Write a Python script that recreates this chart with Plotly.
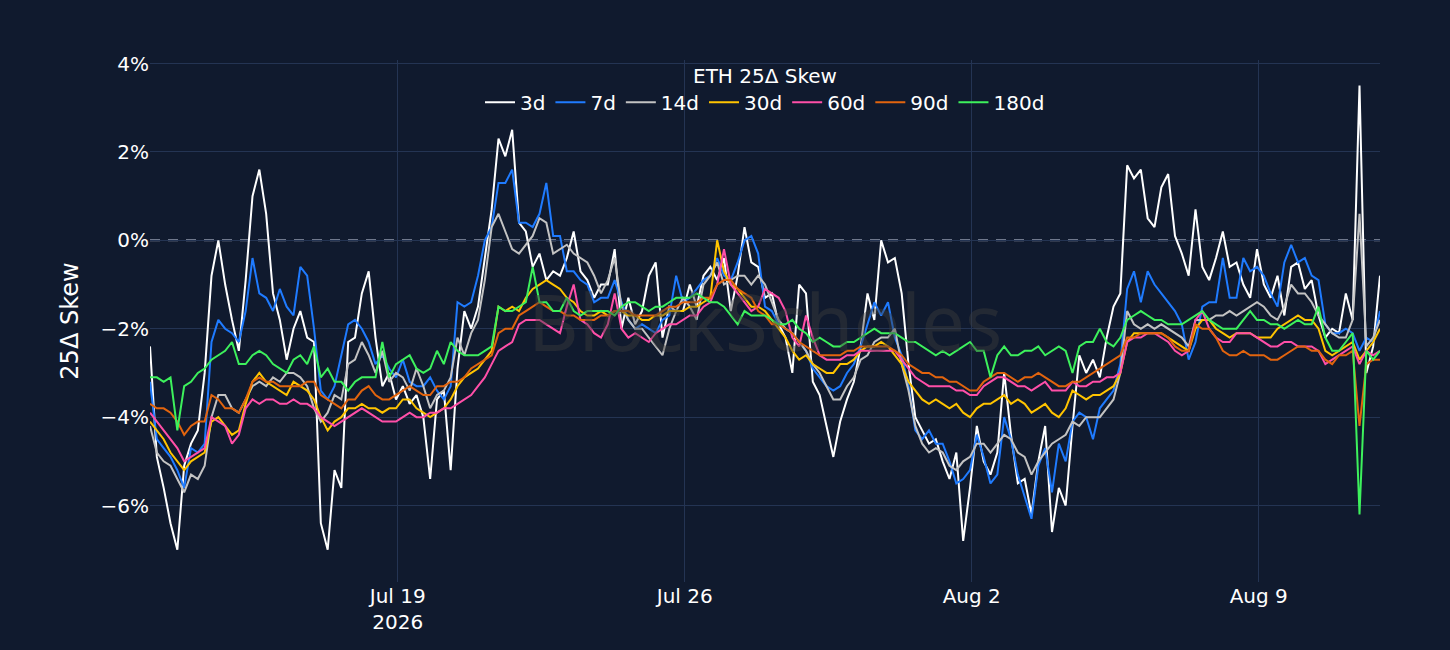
import pandas as pd
import plotly.graph_objects as go

# 4-hourly samples, Jul 12 23:00 -> Aug 11 23:00 (2026)
start_time = '2026-07-12 23:00'
step = '4h'

tenors = ['3d', '7d', '14d', '30d', '60d', '90d', '180d']
colors = ['#ffffff', '#1f7bff', '#c3c3c3', '#ffc400', '#ff4fa8', '#e2640e', '#3df15c']

skew_3d = [
    -2.4, -4.9, -5.6, -6.4, -7.0, -5.1, -4.6, -4.3, -3.0, -0.8,
    0.0, -1.0, -1.8, -2.5, -0.9, 1.0, 1.6, 0.6, -1.2, -1.8,
    -2.7, -2.0, -1.6, -2.2, -2.3, -6.4, -7.0, -5.2, -5.6, -2.3,
    -2.2, -1.2, -0.7, -2.2, -3.3, -3.0, -3.6, -3.3, -3.7, -3.5,
    -4.0, -5.4, -3.6, -3.4, -5.2, -2.9, -1.6, -2.0, -1.5, -0.4,
    0.7, 2.3, 1.9, 2.5, 0.4, 0.2, -0.6, -0.3, -0.9, -0.7,
    -0.8, -0.4, 0.2, -0.7, -0.9, -1.3, -1.0, -1.0, -0.2, -2.0,
    -1.3, -1.9, -1.6, -0.8, -0.5, -2.2, -1.5, -1.6, -1.6, -1.0,
    -1.5, -0.8, -0.6, -0.9, -0.4, -1.6, -0.8, 0.3, -0.5, -0.6,
    -1.3, -1.2, -1.9, -2.2, -3.0, -1.0, -1.2, -3.2, -3.5, -4.2,
    -4.9, -4.1, -3.6, -3.2, -2.4, -1.2, -1.8, 0.0, -0.5, -0.4,
    -1.2, -2.8, -4.0, -4.3, -4.6, -4.5, -5.0, -5.4, -4.8, -6.8,
    -5.6, -4.2, -5.0, -5.3, -4.8, -3.0, -4.4, -5.5, -5.4, -6.2,
    -5.0, -4.2, -6.6, -5.6, -6.0, -4.2, -2.6, -3.0, -2.7, -3.1,
    -2.2, -1.5, -1.2, 1.7, 1.4, 1.6, 0.5, 0.3, 1.2, 1.5,
    0.1, -0.3, -0.8, 0.7, -0.6, -0.9, -0.4, 0.2, -0.6, -0.5,
    -1.0, -1.3, -0.2, -1.0, -1.3, -0.8, -1.7, -0.6, -0.5, -1.1,
    -0.9, -1.7, -2.2, -2.0, -2.1, -1.2, -1.8, 3.5, -3.0, -2.4,
    -0.8,
]

skew_7d = [
    -3.2, -4.5, -4.7, -4.9, -5.2, -5.6, -4.7, -4.8, -4.6, -2.3,
    -1.8, -2.0, -2.1, -2.3, -1.6, -0.4, -1.2, -1.3, -1.6, -1.1,
    -1.5, -1.7, -0.6, -0.8, -2.0, -3.4, -3.6, -3.3, -2.6, -1.9,
    -1.8, -2.0, -2.3, -2.8, -2.6, -2.9, -3.1, -2.7, -3.2, -3.3,
    -3.3, -3.1, -3.4, -3.6, -3.3, -1.4, -1.5, -1.4, -0.8, 0.0,
    0.3, 1.3, 1.3, 1.6, 0.4, 0.4, 0.3, 0.6, 1.3, 0.1,
    0.1, -0.7, -0.7, -0.9, -1.0, -1.4, -1.3, -1.3, -0.9, -1.4,
    -1.8, -2.0, -1.9, -2.0, -2.1, -1.8, -1.7, -0.8, -1.4, -1.3,
    -1.1, -0.9, -0.8, -0.4, -0.8, -0.9, -0.5, 0.0, 0.1, -0.3,
    -1.5, -1.6, -1.9, -2.0, -2.1, -2.3, -2.5, -2.9, -3.1, -3.3,
    -3.4, -3.3, -3.0, -2.8, -2.4, -1.9, -1.4, -1.7, -1.4, -2.2,
    -2.6, -3.3, -4.3, -4.5, -4.3, -4.6, -4.6, -5.0, -5.5, -5.4,
    -5.2, -4.4, -4.9, -5.5, -5.3, -4.0, -4.5, -5.3, -5.8, -6.3,
    -5.1, -4.7, -5.7, -4.6, -5.0, -4.1, -3.9, -4.0, -4.5, -3.8,
    -3.6, -3.4, -2.8, -1.1, -0.7, -1.4, -0.7, -1.0, -1.2, -1.4,
    -1.6, -1.9, -2.7, -2.3, -1.5, -1.4, -1.4, -0.4, -1.3, -1.3,
    -0.4, -0.7, -0.6, -0.8, -1.2, -1.5, -0.5, -0.1, -0.5, -0.4,
    -0.8, -0.9, -1.9, -2.1, -2.1, -2.0, -2.1, -2.5, -2.2, -2.3,
    -1.6,
]

skew_14d = [
    -4.2, -4.8, -5.0, -5.1, -5.4, -5.7, -5.3, -5.4, -5.1, -4.0,
    -3.5, -3.5, -3.8, -3.9, -3.6, -3.3, -3.2, -3.3, -3.1, -3.2,
    -3.0, -3.0, -3.1, -3.3, -3.8, -4.1, -3.9, -3.5, -3.6, -2.8,
    -2.7, -2.3, -2.6, -3.0, -2.5, -3.2, -3.0, -3.1, -3.4, -2.9,
    -3.3, -3.8, -3.5, -3.4, -3.1, -2.2, -2.6, -2.1, -1.8, -0.9,
    0.3, 0.6, 0.2, -0.2, -0.3, -0.1, 0.1, 0.5, 0.4, -0.3,
    -0.2, -0.1, -0.3, -0.4, -0.5, -0.8, -1.2, -0.9, -0.4, -1.5,
    -1.8, -2.0, -2.0, -2.2, -2.4, -2.6, -2.0, -1.6, -1.3, -1.5,
    -1.8, -1.0, -0.8, -0.5, -1.0, -0.9, -0.8, -0.8, -1.0, -0.8,
    -1.0, -1.4, -1.8, -2.0, -2.1, -2.3, -2.5, -2.8, -3.0, -3.3,
    -3.6, -3.6, -3.3, -3.1, -2.7, -2.6, -2.3, -2.2, -2.2, -2.0,
    -2.8, -3.4, -4.2, -4.6, -4.8, -4.7, -4.8, -5.1, -5.2, -5.0,
    -4.9, -4.6, -4.6, -4.8, -4.6, -4.4, -4.5, -4.8, -4.9, -5.3,
    -5.0, -4.8, -4.6, -4.5, -4.4, -4.1, -4.2, -4.0, -4.0, -4.0,
    -3.8, -3.6, -3.0, -1.6, -1.9, -2.0, -1.9, -2.0, -1.9, -2.0,
    -2.1, -2.2, -2.4, -1.8, -1.8, -1.8, -1.7, -1.7, -1.6, -1.7,
    -1.6, -1.5, -1.4, -1.5, -1.7, -1.8, -1.5, -1.0, -1.2, -1.2,
    -1.4, -1.7, -1.9, -2.1, -2.2, -2.2, -1.8, 0.6, -2.4, -2.2,
    -1.8,
]

skew_30d = [
    -4.1, -4.3, -4.5, -4.8, -5.0, -5.2, -5.0, -4.9, -4.8, -4.1,
    -4.0, -4.2, -4.4, -4.3, -3.7, -3.2, -3.0, -3.2, -3.3, -3.4,
    -3.5, -3.2, -3.3, -3.4, -3.6, -4.0, -4.3, -4.1, -4.0, -3.8,
    -3.8, -3.7, -3.8, -3.8, -3.9, -3.8, -3.8, -3.6, -3.6, -3.8,
    -3.9, -4.0, -3.9, -3.8, -3.6, -3.3, -3.1, -3.0, -2.9, -2.7,
    -2.5, -1.5, -1.6, -1.5, -1.6, -1.3, -1.1, -1.0, -0.9, -1.0,
    -1.1, -1.3, -1.4, -1.6, -1.7, -1.7, -1.6, -1.7, -1.6, -1.6,
    -1.7, -1.7, -1.8, -1.8, -1.7, -1.7, -1.6, -1.6, -1.6, -1.5,
    -1.5, -1.4, -1.3, 0.0, -0.7, -1.0, -1.1, -1.3, -1.5, -1.5,
    -1.6, -1.8, -2.0, -2.2, -2.5, -2.7, -2.6, -2.8, -2.9, -3.0,
    -3.0, -2.8, -2.8, -2.7, -2.5, -2.4, -2.4, -2.3, -2.4, -2.6,
    -2.8, -3.2, -3.4, -3.6, -3.7, -3.6, -3.7, -3.8, -3.7, -3.9,
    -4.0, -3.8, -3.7, -3.7, -3.6, -3.5, -3.7, -3.6, -3.7, -3.9,
    -3.8, -3.7, -3.9, -4.0, -3.8, -3.4, -3.5, -3.6, -3.5, -3.5,
    -3.4, -3.3, -3.0, -2.3, -2.1, -2.1, -2.1, -2.1, -2.1, -2.2,
    -2.3, -2.4, -2.5, -2.0, -1.8, -1.8, -2.0, -2.1, -2.2, -2.1,
    -2.1, -2.1, -2.2, -2.2, -2.2, -2.0, -1.9, -1.8, -1.7, -1.8,
    -1.8, -2.0, -2.5, -2.6, -2.5, -2.4, -2.3, -2.7, -2.5, -2.3,
    -2.0,
]

skew_60d = [
    -3.9, -4.1, -4.3, -4.5, -4.7, -5.0, -4.9, -4.8, -4.7, -4.0,
    -4.1, -4.2, -4.6, -4.4, -3.8, -3.6, -3.7, -3.6, -3.6, -3.7,
    -3.7, -3.6, -3.7, -3.7, -3.8, -4.0, -4.1, -4.2, -4.1, -4.0,
    -3.9, -3.8, -3.9, -4.0, -4.1, -4.1, -4.1, -4.0, -3.9, -4.0,
    -4.0, -3.9, -3.9, -3.8, -3.8, -3.7, -3.6, -3.5, -3.3, -3.1,
    -2.8, -2.5, -2.4, -2.3, -1.9, -1.8, -1.8, -1.8, -1.9, -2.0,
    -2.1, -1.5, -1.0, -1.8, -1.9, -2.1, -2.2, -1.9, -1.2, -2.0,
    -2.2, -2.1, -2.2, -2.3, -2.1, -2.0, -1.9, -1.9, -1.8, -1.7,
    -1.7, -1.5, -1.4, -1.0, -0.2, -1.0, -1.2, -1.4, -1.6, -1.5,
    -1.1, -1.2, -1.3, -1.6, -2.2, -2.4, -1.7, -2.2, -2.6, -2.7,
    -2.7, -2.7, -2.6, -2.6, -2.5, -2.5, -2.5, -2.5, -2.5, -2.5,
    -2.7, -2.9, -3.1, -3.2, -3.3, -3.3, -3.3, -3.3, -3.4, -3.4,
    -3.5, -3.5, -3.3, -3.2, -3.1, -3.1, -3.2, -3.3, -3.3, -3.4,
    -3.3, -3.2, -3.4, -3.4, -3.4, -3.2, -3.3, -3.3, -3.2, -3.2,
    -3.1, -3.1, -3.0, -2.3, -2.2, -2.2, -2.1, -2.1, -2.2, -2.3,
    -2.5, -2.6, -2.5, -1.8, -1.6, -2.0, -2.2, -2.3, -2.3, -2.1,
    -2.1, -2.1, -2.2, -2.3, -2.4, -2.4, -2.3, -2.3, -2.4, -2.4,
    -2.4, -2.5, -2.8, -2.7, -2.6, -2.5, -2.4, -2.8, -2.5, -2.6,
    -2.5,
]

skew_90d = [
    -3.7, -3.8, -3.8, -3.9, -4.1, -4.4, -4.2, -4.1, -4.1, -3.5,
    -3.6, -3.8, -3.8, -3.9, -3.6, -3.2, -3.1, -3.2, -3.2, -3.3,
    -3.3, -3.3, -3.3, -3.2, -3.2, -3.5, -3.6, -3.7, -3.8, -3.6,
    -3.6, -3.4, -3.3, -3.5, -3.6, -3.6, -3.5, -3.4, -3.3, -3.4,
    -3.5, -3.5, -3.3, -3.3, -3.2, -3.2, -3.1, -2.9, -2.8, -2.7,
    -2.6, -2.1, -2.0, -2.0, -1.7, -1.6, -1.5, -1.4, -1.5, -1.6,
    -1.6, -1.7, -1.7, -1.8, -1.8, -1.8, -1.7, -1.7, -1.6, -1.6,
    -1.6, -1.7, -1.7, -1.7, -1.7, -1.6, -1.5, -1.5, -1.4, -1.4,
    -1.4, -1.3, -1.3, -1.0, -0.9, -0.9, -1.1, -1.2, -1.3, -1.6,
    -1.7, -1.9, -1.9, -2.0, -2.1, -2.3, -2.4, -2.5, -2.6, -2.6,
    -2.6, -2.6, -2.5, -2.5, -2.4, -2.4, -2.4, -2.4, -2.4, -2.5,
    -2.6, -2.8, -2.9, -3.0, -3.0, -3.1, -3.1, -3.2, -3.2, -3.3,
    -3.4, -3.4, -3.2, -3.1, -3.0, -3.0, -3.1, -3.2, -3.1, -3.1,
    -3.0, -3.1, -3.2, -3.3, -3.3, -3.2, -3.2, -3.1, -3.0, -2.9,
    -2.8, -2.7, -2.6, -2.2, -2.2, -2.1, -2.1, -2.1, -2.1, -2.2,
    -2.4, -2.5, -2.5, -1.9, -2.0, -2.0, -2.2, -2.5, -2.6, -2.6,
    -2.5, -2.6, -2.6, -2.6, -2.7, -2.7, -2.6, -2.5, -2.4, -2.4,
    -2.5, -2.5, -2.7, -2.8, -2.6, -2.6, -2.5, -4.2, -2.8, -2.7,
    -2.7,
]

skew_180d = [
    -3.1, -3.1, -3.2, -3.1, -4.3, -3.3, -3.2, -3.0, -2.9, -2.7,
    -2.6, -2.5, -2.3, -2.8, -2.8, -2.6, -2.5, -2.6, -2.8, -2.9,
    -3.0, -2.7, -2.6, -2.8, -2.4, -3.1, -2.9, -3.2, -3.2, -3.4,
    -3.2, -3.1, -3.1, -3.1, -2.3, -3.1, -2.8, -2.7, -2.6, -2.9,
    -3.0, -2.9, -2.5, -2.8, -2.3, -2.5, -2.6, -2.6, -2.6, -2.5,
    -2.4, -1.5, -1.6, -1.6, -1.5, -1.4, -0.6, -1.4, -1.4, -1.6,
    -1.6, -1.3, -1.6, -1.7, -1.6, -1.6, -1.6, -1.6, -1.7, -1.5,
    -1.4, -1.4, -1.5, -1.6, -1.5, -1.5, -1.4, -1.3, -1.3, -1.3,
    -1.2, -1.3, -1.4, -1.4, -1.5, -1.7, -1.9, -1.6, -1.7, -1.7,
    -1.7, -1.8, -1.9, -1.9, -1.8, -2.0, -2.1, -2.3, -2.2, -2.3,
    -2.4, -2.4, -2.3, -2.3, -2.2, -2.1, -2.0, -2.1, -2.1, -2.1,
    -2.2, -2.3, -2.3, -2.4, -2.5, -2.6, -2.5, -2.6, -2.5, -2.4,
    -2.3, -2.5, -2.5, -3.1, -2.6, -2.4, -2.6, -2.6, -2.5, -2.5,
    -2.4, -2.6, -2.5, -2.4, -2.5, -3.0, -2.4, -2.3, -2.3, -2.0,
    -2.3, -2.4, -2.2, -1.8, -1.7, -1.6, -1.7, -1.8, -1.8, -1.9,
    -1.9, -1.9, -1.8, -1.7, -1.6, -1.8, -1.9, -2.0, -2.0, -2.0,
    -1.8, -1.6, -1.8, -1.8, -1.9, -1.9, -2.0, -1.9, -1.8, -1.9,
    -1.9, -1.5, -2.2, -2.5, -2.5, -2.3, -2.1, -6.2, -2.5, -2.7,
    -2.5,
]

bg_color = '#101a2e'
grid_color = '#243453'
font_family = 'DejaVu Sans'


def create_line(times, values, name, color):
    return go.Scatter(
        x=times,
        y=values,
        name=name,
        mode='lines',
        line=dict(color=color, width=2),
    )


def plot():
    series = [skew_3d, skew_7d, skew_14d, skew_30d, skew_60d, skew_90d, skew_180d]
    for s in series:
        assert len(s) == len(skew_3d), len(s)

    times = pd.date_range(start_time, periods=len(skew_3d), freq=step)

    fig = go.Figure()
    for name, values, color in zip(tenors, series, colors):
        fig.add_trace(create_line(times, values, name, color))

    fig.update_layout(
        width=1450,
        height=650,
        paper_bgcolor=bg_color,
        plot_bgcolor=bg_color,
        font=dict(family=font_family, size=20, color='#ffffff'),
        margin=dict(l=150, r=70, t=60, b=68),
        showlegend=True,
        legend=dict(
            orientation='h',
            x=0.5, xanchor='center',
            y=1.006, yanchor='top',
            bgcolor='rgba(0,0,0,0)',
            font=dict(size=20),
            title=dict(text='ETH 25Δ Skew', side='top center', font=dict(size=20)),
        ),
        xaxis=dict(
            range=[times[0], times[-1]],
            tick0='2026-07-19',
            dtick=7 * 24 * 60 * 60 * 1000,
            gridcolor=grid_color,
            showline=False,
            zeroline=False,
            tickfont=dict(size=20),
        ),
        yaxis=dict(
            range=[-7.73, 4.08],
            dtick=2,
            ticksuffix='%',
            gridcolor=grid_color,
            zeroline=False,
            showline=False,
            tickfont=dict(size=20),
            title=dict(text='25Δ Skew', font=dict(size=24)),
        ),
        # dashed zero reference line, above the grid but under the traces
        shapes=[dict(
            type='line', xref='paper', yref='y',
            x0=0, x1=1, y0=0, y1=0,
            line=dict(color='#8e98ac', width=2, dash='10px,8px'),
            layer='between',
        )],
        annotations=[dict(
            text='BlockScholes',
            x=0.5, y=0.5, xref='paper', yref='paper',
            showarrow=False,
            font=dict(family='Noto Sans', size=78, color='rgba(60,60,60,0.45)'),
        )],
    )

    return fig


if __name__ == '__main__':
    fig = plot()
    fig.write_html('out.html', config={'displayModeBar': False},
                   post_script="document.body.style.margin='0';")
